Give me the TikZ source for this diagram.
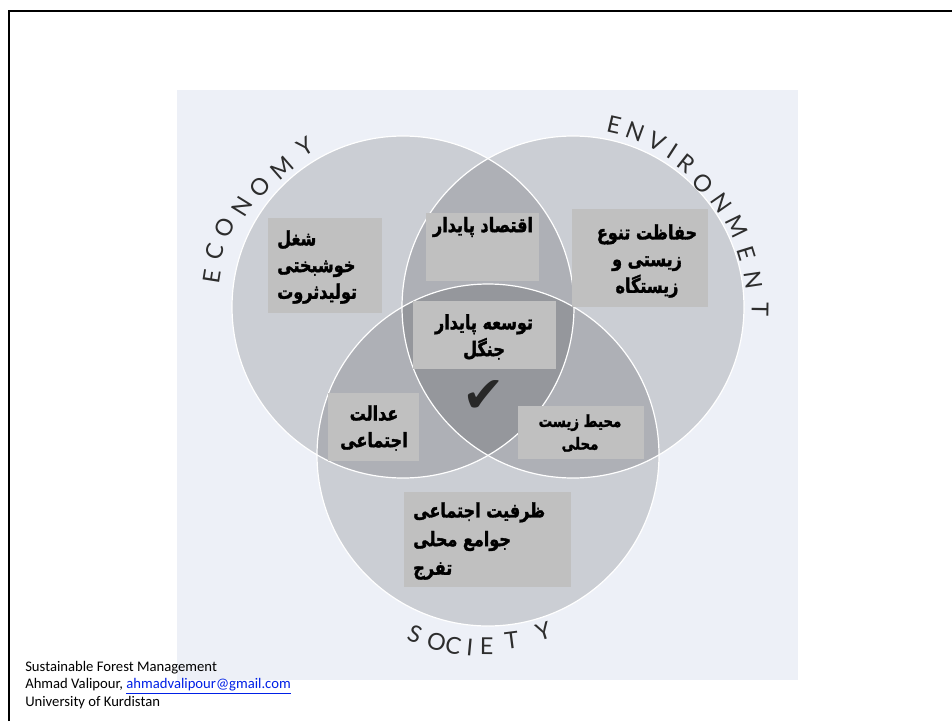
\documentclass[tikz,border=0pt]{standalone}
\usepackage{fontspec}
\setmainfont{Carlito}
\newfontfamily\arabicfont[Script=Arabic, FakeBold=1.6, FakeStretch=0.8]{DejaVu Sans}
\newfontfamily\capsfont{Lato}
\newfontfamily\symfont{DejaVu Sans}
\TeXXeTstate=1
\usetikzlibrary{calc}
\definecolor{scanbg}{RGB}{237,240,247}
\definecolor{boxgray}{RGB}{192,192,192}
\definecolor{lettergray}{RGB}{45,45,45}
\definecolor{checkgray}{RGB}{40,40,40}
\definecolor{linkblue}{RGB}{0,32,230}
\begin{document}
\begin{tikzpicture}[x=0.75pt,y=-0.75pt,
  circfill/.style={fill=black, fill opacity=0.14},
  circline/.style={draw=white, line width=0.9pt},
  gbox/.style={fill=boxgray, draw=none, inner sep=0, outer sep=0},
  ar/.style={font=\arabicfont\bfseries\fontsize{15}{20}\selectfont, inner sep=0, text=black},
  arsm/.style={font=\arabicfont\bfseries\fontsize{12.5}{17}\selectfont, inner sep=0, text=black},
  arcletter/.style={font=\capsfont\fontsize{17.5}{17.5}\selectfont, text=lettergray, inner sep=0},
]
\useasboundingbox (0,0) rectangle (952,721);
\fill[white] (0,0) rectangle (952,721);
% scanned page background
\fill[scanbg] (177,90) rectangle (798,680);
% slide frame
\draw[line width=1.9pt] (9,721) -- (9,11) -- (952,11);

% circle centres
\coordinate (E) at (403,307);
\coordinate (V) at (573,307);
\coordinate (S) at (488,455);
\path[circfill] (E) circle[radius=171];
\path[circfill] (V) circle[radius=171];
\path[circfill] (S) circle[radius=171];
\path[circline] (E) circle[radius=171];
\path[circline] (V) circle[radius=171];
\path[circline] (S) circle[radius=171];

% arc lettering
\foreach \ch/\lx/\ly/\rot [count=\i] in {E/211.7/276.7/81, C/215/252/73.7, O/225/228/66.1, N/241.7/206.7/58.1, O/260/186.7/50.1, M/281.7/168/41.1, Y/305/146.7/31.4}
  \node[arcletter, rotate=\rot] (eco\i) at (\lx,\ly) {\ch};
\foreach \ch/\lx/\ly/\rot [count=\i] in {E/614/125/-13.1, N/635/132/-20.1, V/656.7/141.7/-26.9, I/673/151.7/-32.8, R/686.7/163.3/-38.4, O/703/183/-46.4, N/721.7/203/-55, M/736.7/226.7/-63.9, E/746.7/253.3/-72.8, N/753/280/-81.5, T/760/310/-90.9}
  \node[arcletter, rotate=\rot] (env\i) at (\lx,\ly) {\ch};
\foreach \ch/\lx/\ly/\rot [count=\i] in {S/415/634/-22.2, O/436.7/641.7/-15.4, C/453.3/646/-10.3, I/470/647.3/-5.3, E/486.7/646/-0.4, T/511.7/640/7.3, Y/543.3/631.7/17.4}
  \node[arcletter, rotate=\rot] (soc\i) at (\lx,\ly) {\ch};

% grey boxes
\newcommand\gbox[5]{\node[gbox, minimum width={(#4-#2)*0.75pt}, minimum height={(#5-#3)*0.75pt}] (#1) at ({(#2+#4)/2},{(#3+#5)/2}) {};}
\gbox{b1}{268}{218}{382}{313}
\gbox{b2}{426}{213}{539}{281}
\gbox{b3}{572}{209}{708}{307}
\gbox{b4}{413}{301}{556}{369}
\gbox{b5}{328}{393}{419}{461}
\gbox{b6}{518}{406}{644}{459}
\gbox{b7}{404}{492}{571}{587}

% texts
\node[ar, align=left, anchor=west] (t1) at (277,267) {\beginR شغل\endR\\ \beginR خوشبختی\endR\\ \beginR تولیدثروت\endR};
\node[ar, align=center] (t2) at (483,227) {\beginR اقتصاد پایدار\endR};
\node[ar, align=center] (t3) at (647,261) {\beginR حفاظت تنوع\endR\\ \beginR زیستی و\endR\\ \beginR زیستگاه\endR};
\node[ar, align=center] (t4) at (484,337) {\beginR توسعه پایدار\endR\\ \beginR جنگل\endR};
\node[ar, align=center] (t5) at (374,428) {\beginR عدالت\endR\\ \beginR اجتماعی\endR};
\node[arsm, align=center] (t6) at (580,433) {\beginR محیط زیست\endR\\ \beginR محلی\endR};
\node[ar, align=left, anchor=west, font=\arabicfont\bfseries\fontsize{15}{21.5}\selectfont] (t7) at (413,541) {\beginR ظرفیت اجتماعی\endR\\ \beginR جوامع محلی\endR\\ \beginR تفرج\endR};

% check mark
\node[font=\symfont\fontsize{38}{38}\selectfont, text=checkgray, inner sep=0] (chk) at (484,397) {✔};

% footer
\node[anchor=west, align=left, font=\fontsize{11}{13.1}\selectfont, inner sep=0] (foot) at (25,685)
  {Sustainable Forest Management\\ Ahmad Valipour, {\color{linkblue}\underline{ahmadvalipour@gmail.com}}\\ University of Kurdistan};
\end{tikzpicture}
\end{document}
